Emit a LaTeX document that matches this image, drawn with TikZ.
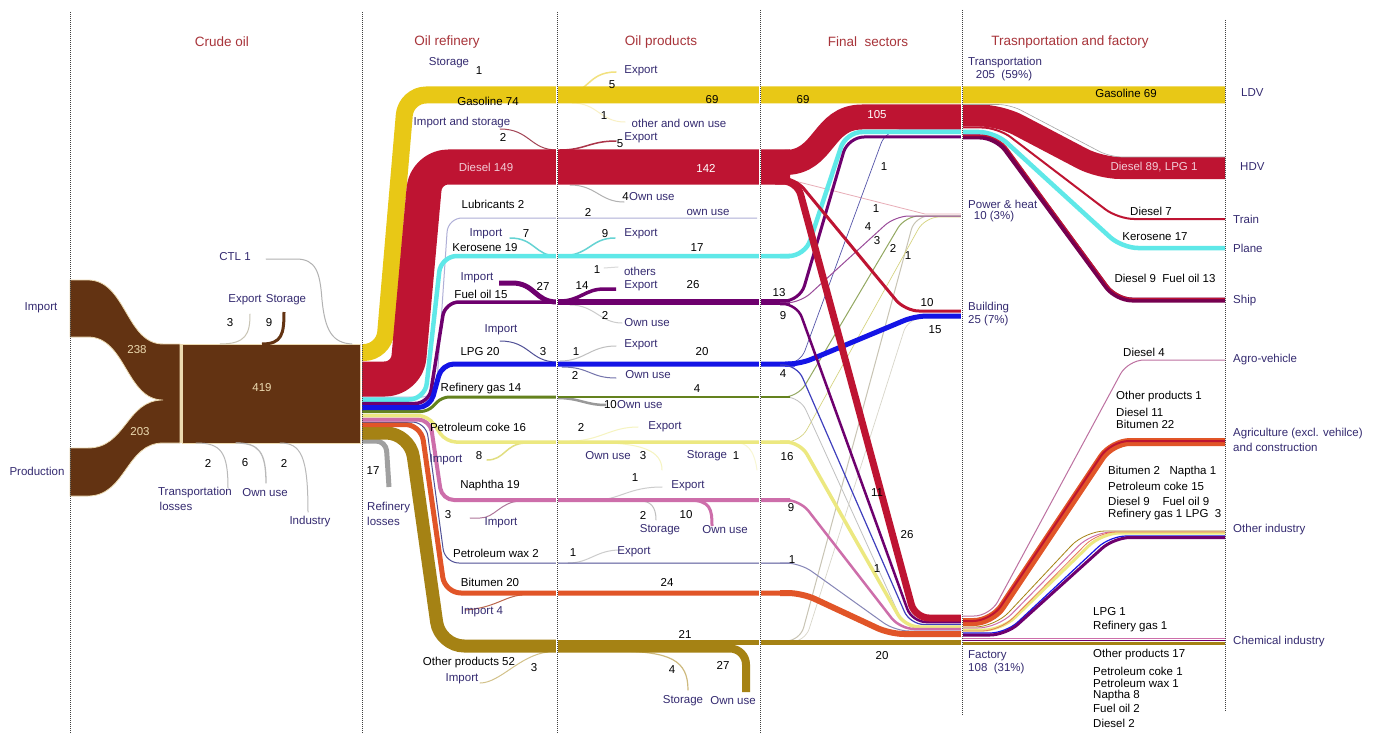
\documentclass[tikz,border=0pt]{standalone}
\usepackage{fontspec}
\setmainfont{Liberation Sans}
\usetikzlibrary{positioning}
\definecolor{ttlred}{RGB}{168,52,58}
\definecolor{navy}{RGB}{52,42,112}
\definecolor{crude}{RGB}{99,51,18}
\definecolor{crudeedge}{RGB}{236,218,176}
\definecolor{gaso}{RGB}{232,200,22}
\definecolor{dsl}{RGB}{190,20,50}
\definecolor{dsltxt}{RGB}{242,205,215}
\definecolor{kero}{RGB}{95,232,232}
\definecolor{fuel}{RGB}{110,0,110}
\definecolor{ship}{RGB}{118,0,80}
\definecolor{lpg}{RGB}{20,20,230}
\definecolor{rgas}{RGB}{100,130,30}
\definecolor{coke}{RGB}{236,232,128}
\definecolor{naph}{RGB}{205,110,170}
\definecolor{wax}{RGB}{80,80,150}
\definecolor{bitu}{RGB}{225,85,40}
\definecolor{oth}{RGB}{165,130,20}
\definecolor{loss}{RGB}{160,160,160}
\definecolor{lub}{RGB}{175,175,215}
\definecolor{faint}{RGB}{200,196,180}
\newcommand{\labfont}{\fontsize{11.5}{13}\selectfont}
\tikzset{
  lab/.style={font=\labfont,text=navy,inner sep=0pt},
  num/.style={font=\labfont,text=black,inner sep=0pt},
  inband/.style={font=\labfont,text=dsltxt,inner sep=0pt},
  inbrown/.style={font=\labfont,text=crudeedge,inner sep=0pt},
  ttl/.style={font=\fontsize{13.5}{15}\selectfont,text=ttlred,inner sep=0pt},
  band/.style={line cap=butt,line join=round},
  twig/.style={line width=1pt,line cap=round},
  sect/.style={densely dotted,line width=1pt,black!75},
}
\begin{document}
\begin{tikzpicture}[x=1pt,y=-1pt]
  \path[use as bounding box,fill=white] (0,0) rectangle (1373,733);

  % crude oil: import and production join
  \filldraw[fill=crude,draw=crudeedge,line width=0.8pt]
    (70,280) -- (88,280) .. controls (126,280) and (126,344) .. (163,344) -- (180,344)
    -- (180,443) -- (163,443) .. controls (126,443) and (126,496) .. (88,496) -- (70,496)
    -- (70,448) -- (88,448) .. controls (126,448) and (126,400) .. (163,400)
    .. controls (126,400) and (126,337) .. (88,337) -- (70,337) -- cycle;
  \filldraw[fill=crude,draw=crudeedge,line width=0.8pt] (182,344) rectangle (360,443);
  \draw[crudeedge,line width=1.5pt] (181,344) -- (181,443);
  \draw[twig,faint] (220,344) .. controls (246,344) and (250,334) .. (250,314);
  \draw[crude,line width=3pt] (262,344) .. controls (282,344) and (284,334) .. (284,312);
  \draw[twig,gray!60] (266,259) -- (296,259) .. controls (316,259) and (320,272) .. (322,300) .. controls (325,330) and (332,343) .. (352,344);
  \draw[twig,gray!55] (196,443) .. controls (221,443) and (228,452) .. (228,488);
  \draw[twig,gray!55,line width=1.3pt] (236,443) .. controls (259,443) and (266,452) .. (266,483);
  \draw[twig,gray!55] (280,443) .. controls (301,443) and (308,456) .. (308,512);

  % oil products: side flows
  \draw[twig,gaso!55,line width=1.5pt] (560,95) .. controls (590,95) and (586,72) .. (616,72);
  \draw[twig,gaso!25] (572,103) .. controls (598,103) and (600,122) .. (625,122);
  \draw[twig,dsl!55!gray] (500,129) .. controls (530,129) and (530,150) .. (557,150);
  \draw[twig,dsl!70!gray,line width=1.5pt] (560,150) .. controls (585,150) and (590,141) .. (616,141);
  \draw[twig,gray!60] (570,185) .. controls (596,185) and (600,202) .. (624,202);
  \draw[twig,kero!80!gray,line width=1.5pt] (510,238) .. controls (535,238) and (535,256) .. (557,256);
  \draw[twig,kero!80!gray,line width=1.5pt] (560,256) .. controls (590,256) and (590,238) .. (615,238);
  \draw[twig,gray!30] (604,268) -- (618,267);
  \draw[band,fuel,line width=5pt] (499,283) -- (512,283) .. controls (535,283) and (535,302) .. (557,302);
  \draw[band,fuel,line width=3.5pt] (560,301) .. controls (580,301) and (585,289) .. (604,289) -- (616,289);
  \draw[twig,gray!40] (570,305) .. controls (595,305) and (600,323) .. (622,323);
  \draw[twig,wax] (500,341) .. controls (530,341) and (530,362) .. (557,362);
  \draw[twig,gray!50] (560,361) .. controls (585,361) and (590,346) .. (616,346);
  \draw[twig,wax!80] (562,367) .. controls (590,367) and (590,378) .. (616,378);
  \draw[band,gray!80,line width=2.5pt] (557,398) .. controls (580,398) and (585,405) .. (606,405);
  \draw[twig,coke!50] (570,441) .. controls (600,441) and (610,427) .. (638,427);
  \draw[twig,coke!90!gray,line width=1.5pt] (487,460) .. controls (505,460) and (505,444) .. (525,443);
  \draw[twig,coke!50] (612,443) .. controls (640,445) and (662,450) .. (662,470);
  \draw[twig,coke!35] (740,443) .. controls (750,445) and (755,455) .. (757,470);
  \draw[twig,naph!60!gray] (470,518) -- (480,518) .. controls (495,518) and (500,502) .. (520,501);
  \draw[twig,gray!40] (595,500) .. controls (620,500) and (628,487) .. (662,487);
  \draw[twig,gray!50] (640,501) .. controls (650,501) and (656,506) .. (656,520);
  \draw[band,naph,line width=3pt] (688,500) .. controls (711,500) and (712,510) .. (712,526);
  \draw[twig,gray!40] (568,563) .. controls (590,563) and (596,550) .. (620,550);
  \draw[twig,bitu!60!gray] (465,610) .. controls (495,608) and (505,596) .. (522,595);
  \draw[twig,oth!50] (480,683) .. controls (500,683) and (520,655) .. (548,652);
  \draw[twig,oth!55,line width=1.2pt] (620,651) .. controls (670,652) and (688,660) .. (688,690);

  % final sectors: faint flows
  \draw[band,dsl!35,line width=0.8pt] (775,176) -- (925,214) -- (962,214);
  \draw[band,rgas!70,line width=1pt,rounded corners=14pt] (780,397) -- (798,397) -- (905,216) -- (962,216);
  \draw[band,faint,line width=1pt,rounded corners=14pt] (780,641) -- (800,641) -- (915,216) -- (962,216);
  \draw[band,coke!80!gray,line width=0.7pt,rounded corners=14pt] (780,442) -- (800,442) -- (925,217) -- (962,217);
  \draw[band,gray!50,line width=0.8pt,rounded corners=14pt] (780,397) -- (800,397) -- (905,628) -- (962,628);
  \draw[band,faint!70,line width=0.7pt,rounded corners=14pt] (780,642) -- (805,642) -- (908,318) -- (962,318);
  \draw[band,lpg!40!gray,line width=0.7pt,rounded corners=14pt] (780,364) -- (800,364) -- (886,130) -- (962,130);

  % refinery
  \draw[band,lub,line width=1pt,rounded corners=14pt] (362,397) -- (436,397) -- (448,218) -- (757,218);
  \draw[band,rgas,line width=3pt,rounded corners=7pt] (362,411.5) -- (428,411.5) -- (442,397) -- (557,397);
  \draw[band,gaso,line width=17pt,rounded corners=20pt] (362,352.5) -- (384,352.5) -- (406,95) -- (1225,95);
  \draw[band,dsl,line width=35pt,rounded corners=22pt] (362,379) -- (407,379) -- (426,167) -- (790,167);
  \draw[band,kero,line width=4.5pt,rounded corners=16pt] (362,399.5) -- (425,399.5) -- (441,256) -- (790,256);
  \draw[band,fuel,line width=3.5pt,rounded corners=14pt] (362,403.5) -- (429,403.5) -- (445,302) -- (557,302);
  \draw[band,lpg,line width=5pt,rounded corners=12pt] (362,407.5) -- (430,407.5) -- (442,364) -- (795,364);
  \draw[band,loss,line width=5pt,rounded corners=10pt] (362,441) -- (386,441) -- (389,487);
  \draw[band,oth,line width=13pt,rounded corners=24pt] (362,433) -- (410,433) -- (440,646) -- (557,646);
  \draw[band,bitu,line width=5pt,rounded corners=16pt] (362,424.5) -- (421,424.5) -- (445,593) -- (790,593);
  \draw[band,wax,line width=1pt,rounded corners=14pt] (362,422) -- (426,422) -- (445,563) -- (790,563);
  \draw[band,naph,line width=4pt,rounded corners=12pt] (362,419.5) -- (430,419.5) -- (442,500) -- (790,500);
  \draw[band,coke,line width=3.5pt,rounded corners=10pt] (362,415.5) -- (428,415.5) -- (446,442) -- (790,442);

  % oil products
  \draw[band,fuel,line width=6pt] (557,302) -- (790,302);
  \draw[band,rgas,line width=1.2pt] (557,397) -- (790,397);
  \draw[band,oth,line width=5pt] (557,642.5) -- (962,642.5);
  \draw[band,oth,line width=8pt,rounded corners=16pt] (557,648.5) -- (746,648.5) -- (746,692);

  % final sectors
  \draw[band,dsl,line width=25pt] (785,162.5) .. controls (825,162.5) and (822,117) .. (862,117) -- (962,117);
  \draw[band,kero,line width=4.5pt,rounded corners=16pt] (780,256) -- (805,256) -- (846,132) -- (962,132);
  \draw[band,fuel,line width=3pt,rounded corners=16pt] (780,301) -- (800,301) -- (848,137) -- (962,137);
  \draw[band,fuel!70,line width=1pt,rounded corners=14pt] (780,303) -- (800,303) -- (895,216) -- (962,216);
  \draw[band,lpg,line width=5pt,rounded corners=12pt] (785,364) -- (800,364) -- (915,316) -- (962,316);
  \draw[band,lpg!60!gray,line width=1.2pt,rounded corners=14pt] (780,365) -- (797,365) -- (910,624.5) -- (962,624.5);
  \draw[band,coke,line width=3.5pt,rounded corners=14pt] (780,442) -- (800,442) -- (905,627) -- (962,627);
  \draw[band,naph,line width=2.5pt,rounded corners=14pt] (780,500) -- (800,500) -- (900,629) -- (962,629);
  \draw[band,wax!70,line width=1pt,rounded corners=14pt] (780,563) -- (800,563) -- (895,631) -- (962,631);
  \draw[band,bitu,line width=6pt,rounded corners=14pt] (780,593) -- (802,593) -- (890,634) -- (962,634);
  \draw[band,fuel,line width=2.5pt,rounded corners=14pt] (780,304) -- (797,304) -- (912,622) -- (962,622);
  \draw[band,dsl,line width=3pt,rounded corners=14pt] (775,178) -- (795,178) -- (905,311) -- (962,311);
  \draw[band,dsl,line width=7pt,rounded corners=14pt] (775,181) -- (797,181) -- (915,618) -- (962,618);

  % transportation
  \draw[band,dsl,line width=22pt,rounded corners=20pt] (962,115.5) -- (1000,115.5) -- (1100,168) -- (1225,168);
  \draw[band,gray!70,line width=0.6pt,rounded corners=12pt] (962,104.5) -- (1010,104.5) -- (1110,157) -- (1225,157);
  \draw[band,dsl,line width=2pt,rounded corners=16pt] (962,127.5) -- (998,127.5) -- (1118,219) -- (1225,219);
  \draw[band,kero,line width=4.5pt,rounded corners=16pt] (962,132) -- (995,132) -- (1122,248) -- (1225,248);
  \draw[band,ship,line width=5pt,rounded corners=16pt] (962,137) -- (996,137) -- (1116,300) -- (1225,300);
  \draw[band,dsl,line width=1.2pt,rounded corners=16pt] (962,135.5) -- (998,135.5) -- (1117,298.5) -- (1225,298.5);

  % factory
  \draw[band,naph!80!gray,line width=1pt,rounded corners=16pt] (962,616) -- (990,616) -- (1128,360) -- (1225,360);
  \draw[band,bitu,line width=8pt,rounded corners=18pt] (962,622) -- (992,622) -- (1112,442) -- (1225,442);
  \draw[band,dsl,line width=2pt,rounded corners=18pt] (962,621) -- (991,621) -- (1111,441) -- (1225,441);
  \draw[band,oth,line width=0.8pt,rounded corners=20pt] (962,627) -- (995,627) -- (1085,531) -- (1225,531);
  \draw[band,naph,line width=1pt,rounded corners=20pt] (962,628) -- (998,628) -- (1092,532) -- (1225,532);
  \draw[band,coke,line width=3pt,rounded corners=18pt] (962,630) -- (1002,630) -- (1102,533) -- (1225,533);
  \draw[band,bitu!80,line width=0.8pt,rounded corners=18pt] (962,631) -- (1000,631) -- (1098,532) -- (1225,532);
  \draw[band,lpg,line width=1.2pt,rounded corners=16pt] (962,633) -- (1006,633) -- (1110,536) -- (1225,536);
  \draw[band,fuel,line width=3pt,rounded corners=16pt] (962,635) -- (1006,635) -- (1114,537.5) -- (1225,537.5);
  \draw[band,naph,line width=1.5pt] (962,638.5) -- (1225,638.5);
  \draw[band,fuel,line width=1pt] (962,640.5) -- (1225,640.5);
  \draw[band,oth,line width=3.5pt] (962,643.5) -- (1225,643.5);

  % section lines
  \foreach \x in {557,760,962} \draw[white,line width=1.6pt] (\x,60) -- (\x,700);
  \foreach \x/\ya/\yb in {70/12/733,362/12/733,557/12/733,760/10/733,962/10/715,1225/20/712}
    \draw[sect] (\x,\ya) -- (\x,\yb);

  % titles
  \node[ttl] (tcrude) at (222,42) {Crude oil};
  \node[ttl] (trefin) at (447,42) {Oil refinery};
  \node[ttl] (tprod) at (661,42) {Oil products};
  \node[ttl] (tfinal) at (868,42) {Final\ \ sectors};
  \node[ttl] (ttrans) at (1070,42) {Trasnportation and factory};

  % crude oil labels
  \node[lab] (srcImport) at (41,308) {Import};
  \node[lab] (srcProd) at (37,471) {Production};
  \node[inbrown] (vImp) at (137,350) {238};
  \node[inbrown] (vProd) at (140,432) {203};
  \node[inbrown] (vCrude) at (262,388) {419};
  \node[lab] (lCtl) at (235,257) {CTL 1};
  \node[lab] (lExpC) at (245,300) {Export};
  \node[lab] (lStoC) at (286,300) {Storage};
  \node[num] (nExpC) at (230,323) {3};
  \node[num] (nStoC) at (269,323) {9};
  \node[num] (nTlC) at (208,463) {2};
  \node[num] (nOuC) at (245,463) {6};
  \node[num] (nIndC) at (284,463) {2};
  \node[lab] (lTlC) at (195,493) {Transportation};
  \node[lab] (lTlC2) at (176,506) {losses};
  \node[lab] (lOuC) at (265,493) {Own use};
  \node[lab] (lIndC) at (310,522) {Industry};

  % refinery labels
  \node[lab] (lStoR) at (449,63) {Storage};
  \node[num] (nStoR) at (479,71) {1};
  \node[num] (lGas) at (488,101) {Gasoline 74};
  \node[lab] (lImpSto) at (462,123) {Import and storage};
  \node[num] (nImpSto) at (503,137) {2};
  \node[inband] (lDsl) at (486,167) {Diesel 149};
  \node[num] (lLub) at (493,204) {Lubricants 2};
  \node[lab] (lImpK) at (486,234) {Import};
  \node[num] (nImpK) at (526,234) {7};
  \node[num] (lKero) at (485,248) {Kerosene 19};
  \node[lab] (lImpF) at (477,278) {Import};
  \node[num] (lFuel) at (481,294) {Fuel oil 15};
  \node[num] (nImpF) at (543,286) {27};
  \node[lab] (lImpL) at (501,330) {Import};
  \node[num] (lLpg) at (480,352) {LPG 20};
  \node[num] (nImpL) at (543,352) {3};
  \node[num] (lRgas) at (481,389) {Refinery gas 14};
  \node[num] (lCoke) at (478,427) {Petroleum coke 16};
  \node[lab] (lImpCk) at (446,460) {Import};
  \node[num] (nImpCk) at (479,456) {8};
  \node[num] (nLoss) at (373,471) {17};
  \node[lab,anchor=west] (lLoss) at (367,508) {Refinery};
  \node[lab,anchor=west] (lLoss2) at (367,521) {losses};
  \node[num] (lNaph) at (490,486) {Naphtha 19};
  \node[num] (nImpN) at (448,515) {3};
  \node[lab] (lImpN) at (501,523) {Import};
  \node[num] (lWax) at (496,553) {Petroleum wax 2};
  \node[num] (lBitu) at (490,582) {Bitumen 20};
  \node[lab] (lImpB) at (482,612) {Import 4};
  \node[num] (lOth) at (469,663) {Other products 52};
  \node[num] (nImpO) at (534,668) {3};
  \node[lab] (lImpO) at (462,679) {Import};

  % oil products labels
  \node[lab] (lExpG) at (641,71) {Export};
  \node[num] (nExpG) at (612,85) {5};
  \node[num] (nOwnG) at (604,116) {1};
  \node[lab] (lOwnG) at (679,123) {other and own use};
  \node[num] (nExpD) at (620,144) {5};
  \node[lab] (lExpD) at (641,138) {Export};
  \node[num] (vGas) at (712,100) {69};
  \node[inband,text=white] (vDsl) at (706,168) {142};
  \node[num,anchor=east] (nOwnD) at (629,197) {4};
  \node[lab,anchor=west] (lOwnD) at (629,197) {Own use};
  \node[num] (nLubO) at (588,212) {2};
  \node[lab] (lLubO) at (708,212) {own use};
  \node[num] (nExpK) at (605,234) {9};
  \node[lab] (lExpK) at (641,234) {Export};
  \node[num] (vKero) at (697,248) {17};
  \node[num] (nOthK) at (597,270) {1};
  \node[lab] (lOthK) at (640,271) {others};
  \node[num] (nExpF) at (582,286) {14};
  \node[lab] (lExpF) at (641,286) {Export};
  \node[num] (vFuel) at (693,285) {26};
  \node[num] (nOwnF) at (605,315) {2};
  \node[lab] (lOwnF) at (647,323) {Own use};
  \node[num] (nExpL) at (576,352) {1};
  \node[lab] (lExpL) at (641,345) {Export};
  \node[num] (vLpg) at (702,352) {20};
  \node[num] (nOwnL) at (575,375) {2};
  \node[lab] (lOwnL) at (648,375) {Own use};
  \node[num] (vRgas) at (697,389) {4};
  \node[num,anchor=east] (nOwnR) at (617,405) {10};
  \node[lab,anchor=west] (lOwnR) at (617,405) {Own use};
  \node[num] (nExpCk) at (581,427) {2};
  \node[lab] (lExpCk) at (665,427) {Export};
  \node[lab] (lOwnCk) at (608,456) {Own use};
  \node[num] (nOwnCk) at (643,456) {3};
  \node[lab] (lStoCk) at (707,456) {Storage};
  \node[num] (nStoCk) at (736,456) {1};
  \node[num] (nExpN) at (635,478) {1};
  \node[lab] (lExpN) at (688,486) {Export};
  \node[num] (nStoN) at (643,515) {2};
  \node[num] (nOwnN) at (686,515) {10};
  \node[lab] (lStoN) at (660,530) {Storage};
  \node[lab] (lOwnN) at (725,530) {Own use};
  \node[num] (nExpW) at (573,553) {1};
  \node[lab] (lExpW) at (634,552) {Export};
  \node[num] (vBitu) at (667,582) {24};
  \node[num] (vOth) at (685,634) {21};
  \node[num] (nStoO) at (672,670) {4};
  \node[num] (nOwnO) at (723,665) {27};
  \node[lab] (lStoO) at (683,701) {Storage};
  \node[lab] (lOwnO) at (733,701) {Own use};

  % final sector labels
  \node[num] (vGasF) at (803,100) {69};
  \node[inband,text=white] (vDslF) at (877,115) {105};
  \node[num] (f1a) at (884,167) {1};
  \node[num] (f1b) at (876,209) {1};
  \node[num] (f4a) at (868,227) {4};
  \node[num] (f3) at (877,241) {3};
  \node[num] (f2) at (893,248) {2};
  \node[num] (f1c) at (908,256) {1};
  \node[num] (f13) at (779,293) {13};
  \node[num] (f9a) at (783,316) {9};
  \node[num] (f10) at (927,303) {10};
  \node[num] (f15) at (935,330) {15};
  \node[num] (f4b) at (783,374) {4};
  \node[num] (f16) at (787,457) {16};
  \node[num] (f11) at (877,493) {11};
  \node[num] (f9b) at (791,508) {9};
  \node[num] (f26) at (907,535) {26};
  \node[num] (f1d) at (792,560) {1};
  \node[num] (f1e) at (877,569) {1};
  \node[num] (f20) at (882,656) {20};

  % transportation and factory labels
  \node[lab,anchor=west] (sTrans) at (968,63) {Transportation};
  \node[lab] (sTrans2) at (1004,76) {205\ \ (59\%)};
  \node[lab,anchor=west] (sPow) at (968,204) {Power \& heat};
  \node[lab] (sPow2) at (994,217) {10 (3\%)};
  \node[lab,anchor=west] (sBld) at (968,308) {Building};
  \node[lab,anchor=west] (sBld2) at (968,321) {25 (7\%)};
  \node[lab,anchor=west] (sFac) at (968,656) {Factory};
  \node[lab,anchor=west] (sFac2) at (968,669) {108\ \ (31\%)};
  \node[num] (tGas) at (1126,93) {Gasoline 69};
  \node[inband] (tHdv) at (1154,167) {Diesel 89, LPG 1};
  \node[num] (tTrain) at (1151,211) {Diesel 7};
  \node[num] (tPlane) at (1155,237) {Kerosene 17};
  \node[num] (tShip) at (1165,278) {Diesel 9\ \ Fuel oil 13};
  \node[lab,anchor=west] (eLdv) at (1241,93) {LDV};
  \node[lab,anchor=west] (eHdv) at (1240,167) {HDV};
  \node[lab,anchor=west] (eTrain) at (1233,219) {Train};
  \node[lab,anchor=west] (ePlane) at (1233,248) {Plane};
  \node[lab,anchor=west] (eShip) at (1233,301) {Ship};
  \node[lab,anchor=west] (eAgro) at (1233,360) {Agro-vehicle};
  \node[lab,anchor=west] (eAgri) at (1233,434) {Agriculture (excl. vehilce)};
  \node[lab,anchor=west] (eAgri2) at (1233,447) {and construction};
  \node[lab,anchor=west] (eOind) at (1233,530) {Other industry};
  \node[lab,anchor=west] (eChem) at (1233,642) {Chemical industry};
  \node[num,anchor=west] (fAgro) at (1123,352) {Diesel 4};
  \node[num,anchor=west] (fAg1) at (1116,397) {Other products 1};
  \node[num,anchor=west] (fAg2) at (1116,412) {Diesel 11};
  \node[num,anchor=west] (fAg3) at (1116,424) {Bitumen 22};
  \node[num,anchor=west] (fOi1) at (1108,472) {Bitumen 2\ \ \ Naptha 1};
  \node[num,anchor=west] (fOi2) at (1108,486) {Petroleum coke 15};
  \node[num,anchor=west] (fOi3) at (1108,501) {Diesel 9\ \ \ \ Fuel oil 9};
  \node[num,anchor=west] (fOi4) at (1108,515) {Refinery gas 1 LPG\ \ 3};
  \node[num,anchor=west] (fCh1) at (1093,612) {LPG 1};
  \node[num,anchor=west] (fCh2) at (1093,627) {Refinery gas 1};
  \node[num,anchor=west] (fCh3) at (1093,655) {Other products 17};
  \node[num,anchor=west] (fCh4) at (1093,671) {Petroleum coke 1};
  \node[num,anchor=west] (fCh5) at (1093,683) {Petroleum wax 1};
  \node[num,anchor=west] (fCh6) at (1093,696) {Naptha 8};
  \node[num,anchor=west] (fCh7) at (1093,708) {Fuel oil 2};
  \node[num,anchor=west] (fCh8) at (1093,723) {Diesel 2};
\end{tikzpicture}
\end{document}
